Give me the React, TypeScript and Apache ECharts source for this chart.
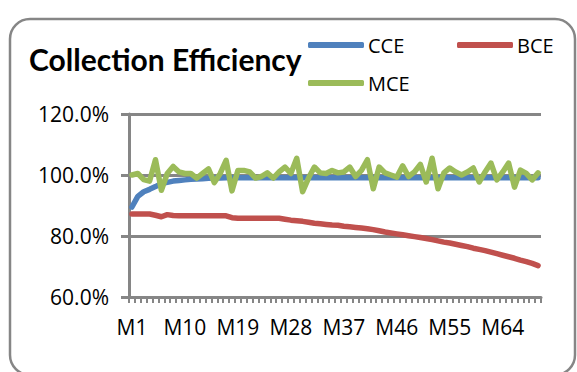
import React, { useEffect, useRef } from "react";
import * as echarts from "echarts";

const categories = [
  "M1","M2","M3","M4","M5","M6","M7","M8","M9","M10",
  "M11","M12","M13","M14","M15","M16","M17","M18","M19","M20",
  "M21","M22","M23","M24","M25","M26","M27","M28","M29","M30",
  "M31","M32","M33","M34","M35","M36","M37","M38","M39","M40",
  "M41","M42","M43","M44","M45","M46","M47","M48","M49","M50",
  "M51","M52","M53","M54","M55","M56","M57","M58","M59","M60",
  "M61","M62","M63","M64","M65","M66","M67","M68","M69","M70",
];

const cce = [
  89.5, 93.0, 94.5, 95.3, 96.2, 97.2, 97.6, 98.0, 98.2, 98.4,
  98.6, 98.7, 98.8, 98.9, 99.0, 99.0, 99.1, 99.1, 99.1, 99.1,
  99.1, 99.1, 99.1, 99.1, 99.1, 99.1, 99.1, 99.1, 99.1, 99.1,
  99.1, 99.1, 99.1, 99.1, 99.1, 99.1, 99.1, 99.1, 99.1, 99.1,
  99.1, 99.1, 99.1, 99.1, 99.1, 99.1, 99.1, 99.1, 99.1, 99.1,
  99.1, 99.1, 99.1, 99.1, 99.1, 99.1, 99.1, 99.1, 99.1, 99.1,
  99.1, 99.1, 99.1, 99.1, 99.1, 99.1, 99.1, 99.1, 99.1, 99.1,
];

const bce = [
  87.2, 87.2, 87.2, 87.2, 86.8, 86.3, 87.0, 86.7, 86.6, 86.6,
  86.6, 86.6, 86.6, 86.6, 86.6, 86.6, 86.6, 86.0, 85.8, 85.8,
  85.8, 85.8, 85.8, 85.8, 85.8, 85.8, 85.5, 85.2, 85.0, 84.8,
  84.5, 84.2, 84.0, 83.8, 83.6, 83.5, 83.2, 83.0, 82.8, 82.6,
  82.4, 82.1, 81.7, 81.3, 81.0, 80.7, 80.4, 80.1, 79.8, 79.5,
  79.2, 78.8, 78.4, 78.0, 77.7, 77.3, 76.9, 76.5, 76.0, 75.6,
  75.2, 74.7, 74.2, 73.7, 73.2, 72.7, 72.1, 71.6, 71.0, 70.3,
];

const mce = [
  100.0, 100.5, 98.5, 98.0, 105.0, 95.0, 100.5, 102.8, 101.0, 100.5,
  100.5, 99.0, 100.5, 102.0, 97.5, 100.5, 104.8, 94.8, 101.5, 101.5,
  101.0, 99.0, 99.5, 100.7, 99.0, 101.0, 102.6, 100.5, 105.5, 94.5,
  99.0, 102.6, 100.7, 100.5, 101.5, 100.7, 101.0, 102.6, 99.5, 101.5,
  105.0, 95.5, 102.6, 100.7, 100.0, 99.3, 103.0, 99.5, 101.0, 103.5,
  97.7, 105.5, 95.5, 100.7, 102.3, 101.0, 100.0, 101.0, 102.3, 97.7,
  101.0, 103.9, 98.4, 101.0, 103.9, 96.0, 101.6, 100.5, 98.4, 100.7,
];

const TITLE_FONT = "Lato";
const FONT = "Open Sans";
const GRAY = "#868686";

export default function App() {
  const ref = useRef<HTMLDivElement>(null);
  useEffect(() => {
    if (!ref.current) return;
    const chart = echarts.init(ref.current, undefined, { renderer: "svg" });
    const legendBase = {
      icon: "roundRect",
      itemWidth: 56,
      itemHeight: 6,
      itemGap: 0,
      textStyle: { fontSize: 20, fontFamily: FONT, color: "#000", padding: [0, 0, 0, -1] },
      padding: 0,
    };
    chart.setOption({
      animation: false,
      backgroundColor: "#fff",
      title: {
        text: "Collection Efficiency",
        left: 29,
        top: 44,
        padding: 0,
        textStyle: { fontSize: 30, fontWeight: "bold", fontFamily: TITLE_FONT, color: "#000" },
      },
      legend: [
        { ...legendBase, data: ["CCE"], left: 308, top: 35 },
        { ...legendBase, data: ["BCE"], left: 457, top: 35 },
        { ...legendBase, data: ["MCE"], left: 308, top: 73 },
      ],
      graphic: [
        {
          type: "rect",
          shape: { x: 10, y: 19, width: 565, height: 356, r: 20 },
          style: { fill: "none", stroke: GRAY, lineWidth: 2.5 },
          z: 0,
        },
      ],
      grid: { left: 129, right: 36, top: 114, bottom: 75, containLabel: false },
      xAxis: {
        type: "category",
        data: categories,
        boundaryGap: true,
        axisLine: { lineStyle: { color: GRAY, width: 3 } },
        axisTick: { show: true, interval: 0, length: 6, lineStyle: { color: GRAY, width: 2 } },
        axisLabel: { interval: 8, fontSize: 21, fontFamily: FONT, color: "#000", margin: 19 },
        splitLine: { show: false },
      },
      yAxis: {
        type: "value",
        min: 60,
        max: 120,
        interval: 20,
        axisLine: { show: true, lineStyle: { color: GRAY, width: 3 } },
        axisTick: { show: true, length: 8, lineStyle: { color: GRAY, width: 3 } },
        axisLabel: {
          fontSize: 21,
          fontFamily: FONT,
          color: "#000",
          margin: 20,
          formatter: (v: number) => v.toFixed(1) + "%",
        },
        splitLine: { show: true, lineStyle: { color: GRAY, width: 3 } },
      },
      series: [
        {
          name: "CCE",
          type: "line",
          data: cce,
          symbol: "none",
          lineStyle: { color: "#4F81BD", width: 5.5, join: "round", cap: "round" },
          itemStyle: { color: "#4F81BD" },
          z: 2,
        },
        {
          name: "BCE",
          type: "line",
          data: bce,
          symbol: "none",
          lineStyle: { color: "#C0504D", width: 5.5, join: "round", cap: "round" },
          itemStyle: { color: "#C0504D" },
          z: 3,
        },
        {
          name: "MCE",
          type: "line",
          data: mce,
          symbol: "none",
          lineStyle: { color: "#9BBB59", width: 5.5, join: "round", cap: "round" },
          itemStyle: { color: "#9BBB59" },
          z: 4,
        },
      ],
    });
    return () => chart.dispose();
  }, []);
  return (
    <div
      ref={ref}
      style={{ position: "absolute", left: 0, top: 0, width: 577, height: 372 }}
    />
  );
}
